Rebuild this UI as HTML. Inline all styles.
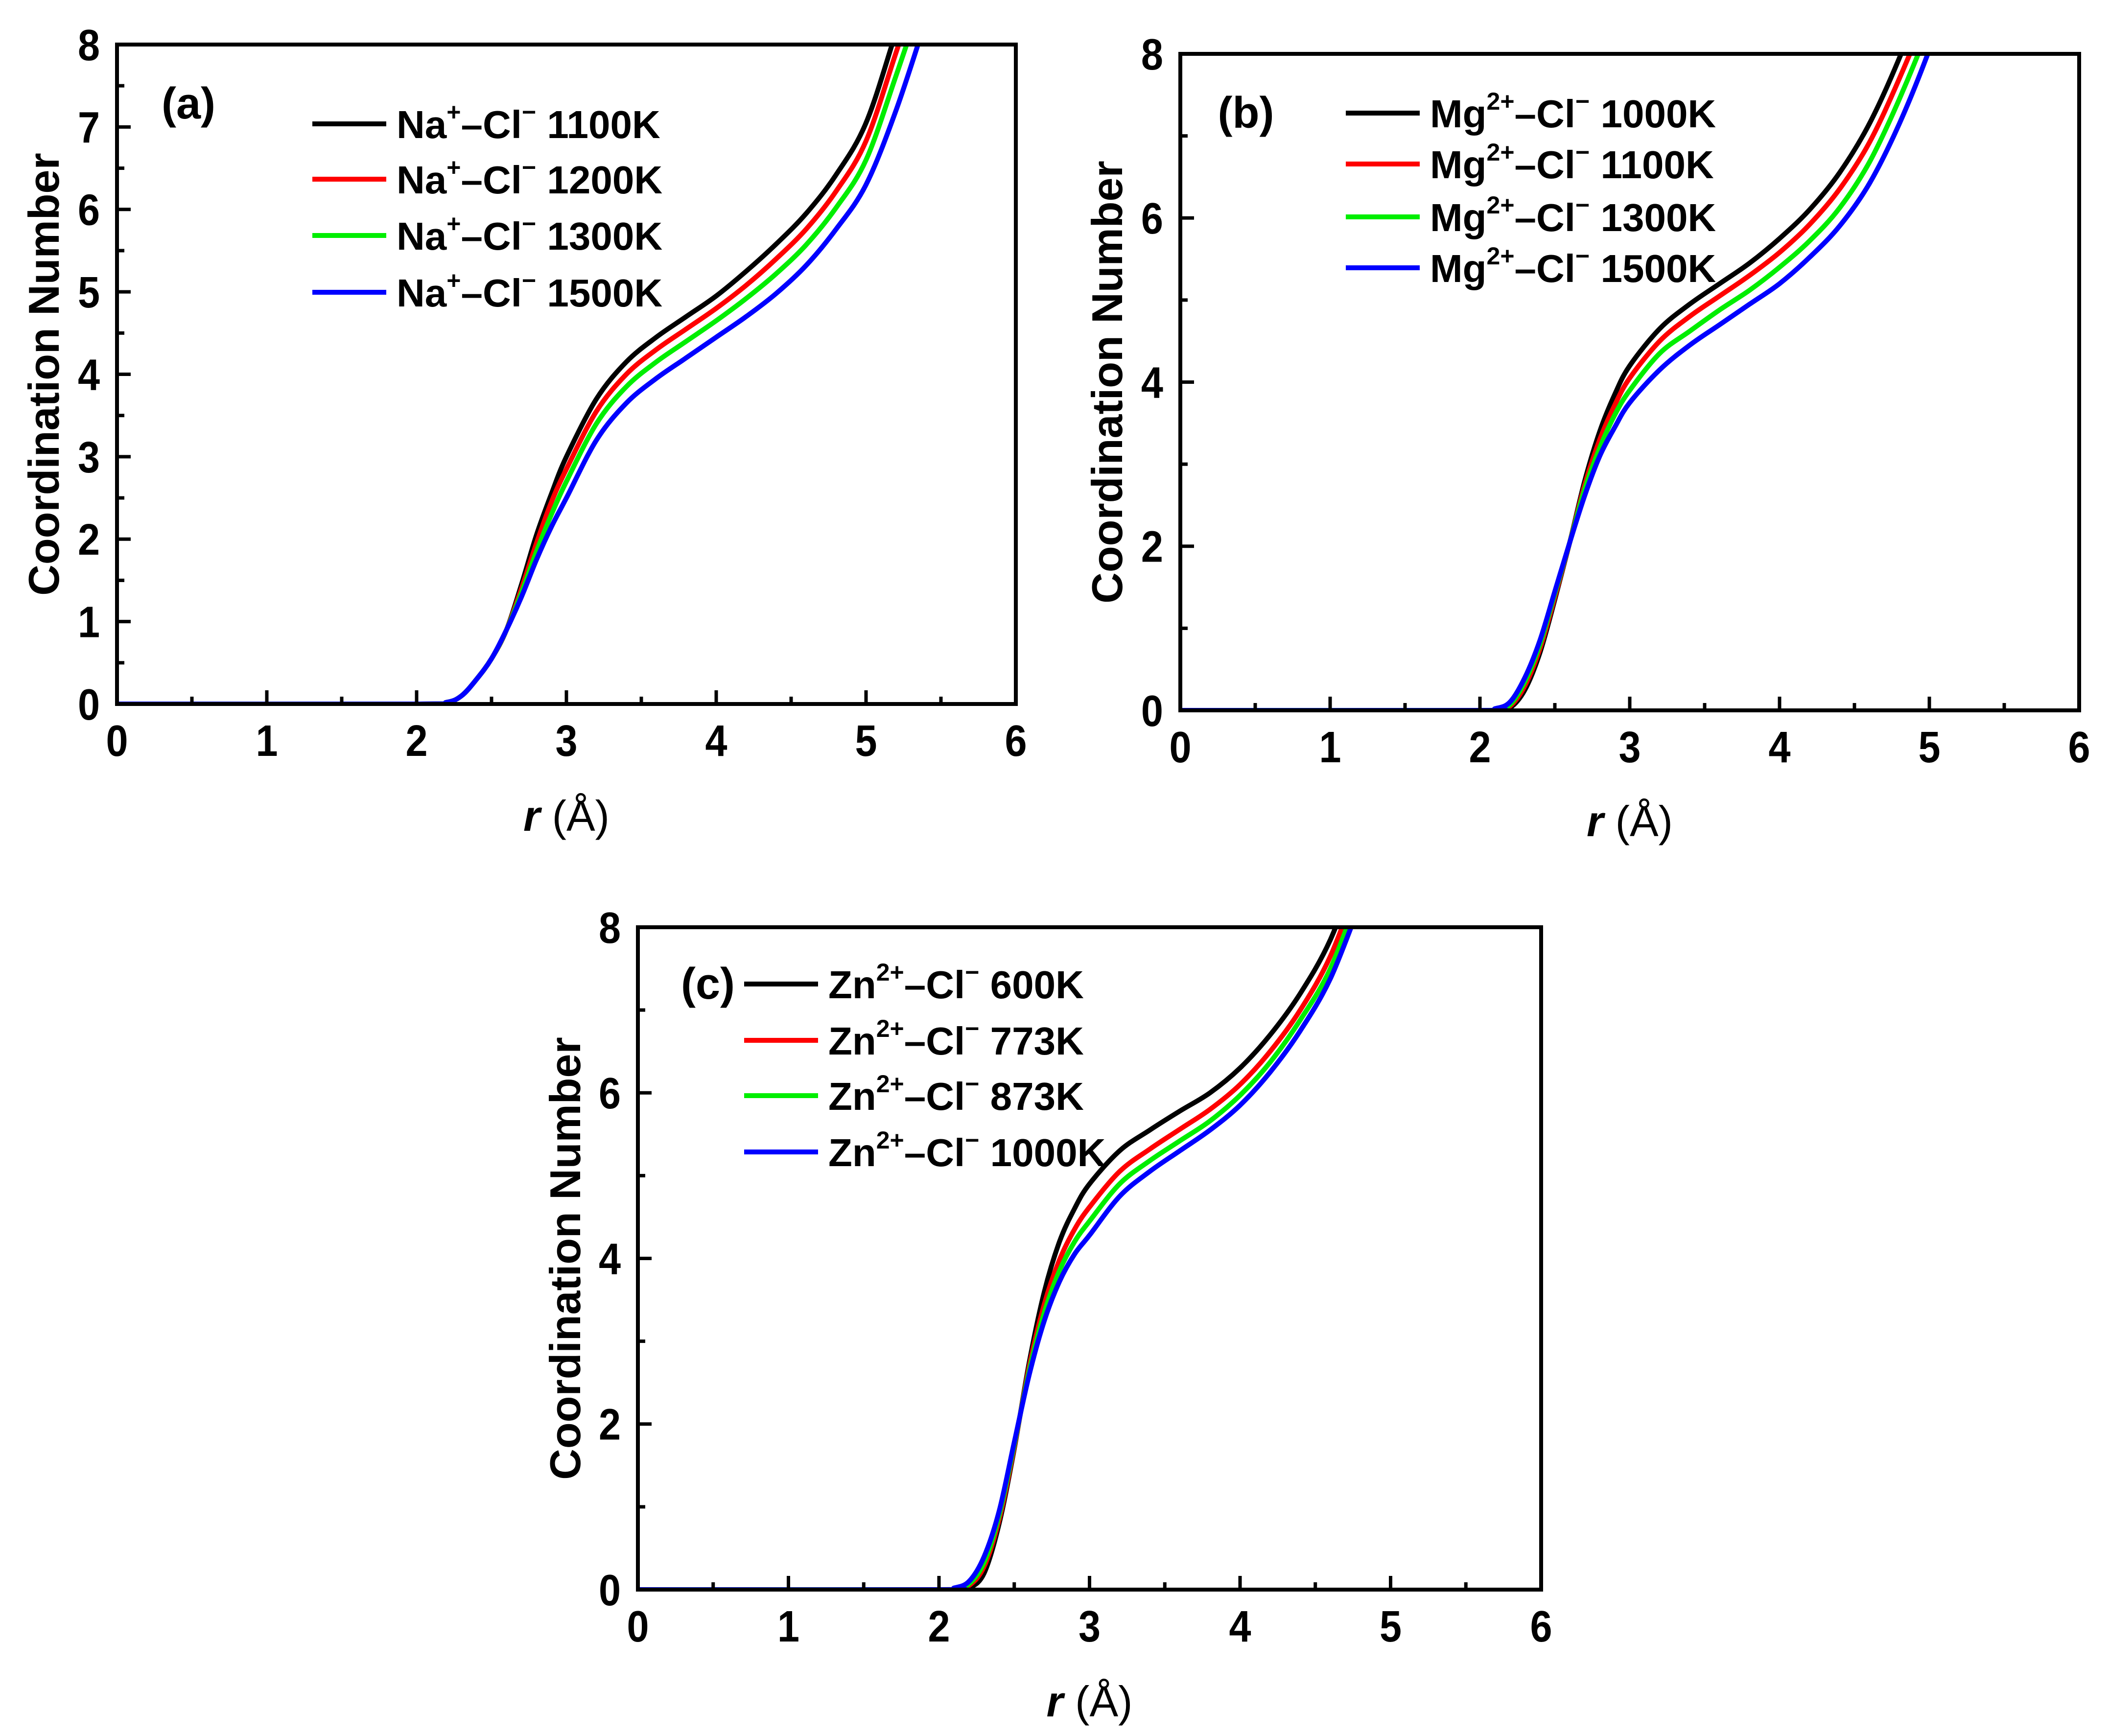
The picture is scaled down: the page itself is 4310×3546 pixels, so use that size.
<!DOCTYPE html>
<html><head><meta charset="utf-8">
<style>
html,body{margin:0;padding:0;background:#fff;}
svg{display:block;}
text{font-family:"Liberation Sans",Arial,sans-serif;font-weight:bold;fill:#000;}
</style></head>
<body>
<svg id="chart" width="4310" height="3546" viewBox="0 0 4310 3546" xmlns="http://www.w3.org/2000/svg">
<rect width="4310" height="3546" fill="#fff"/>
</svg>
<script>
// ---- data ----
const colors = ["#000000", "#ff0000", "#00ee00", "#0000ff"];
const xTicks = [0, 1, 2, 3, 4, 5, 6];
const yTicksA = [0, 1, 2, 3, 4, 5, 6, 7, 8];
const yTicksBC = [0, 2, 4, 6, 8];

const rA = [2.0, 2.2, 2.3, 2.4, 2.5, 2.6, 2.7, 2.8, 2.9, 3.0, 3.2, 3.4, 3.6, 3.8, 4.0, 4.2, 4.4, 4.6, 4.8, 5.0, 5.2, 5.4];
const labelsA = ["1100K", "1200K", "1300K", "1500K"];
const a1100 = [0, 0.02, 0.1, 0.3, 0.55, 0.9, 1.45, 2.05, 2.55, 3.0, 3.7, 4.15, 4.45, 4.7, 4.95, 5.25, 5.58, 5.95, 6.42, 7.05, 8.15, 9.3];
const a1200 = [0, 0.02, 0.1, 0.3, 0.55, 0.9, 1.4, 1.95, 2.45, 2.85, 3.55, 4.0, 4.3, 4.55, 4.8, 5.08, 5.4, 5.76, 6.22, 6.83, 7.9, 9.0];
const a1300 = [0, 0.02, 0.1, 0.3, 0.55, 0.9, 1.35, 1.85, 2.3, 2.7, 3.4, 3.85, 4.15, 4.4, 4.65, 4.92, 5.22, 5.57, 6.02, 6.6, 7.62, 8.7];
const a1500 = [0, 0.02, 0.1, 0.3, 0.55, 0.9, 1.3, 1.75, 2.15, 2.5, 3.2, 3.65, 3.95, 4.2, 4.45, 4.7, 4.98, 5.32, 5.76, 6.3, 7.2, 8.3];

const rB = [2.0, 2.1, 2.2, 2.3, 2.4, 2.5, 2.6, 2.7, 2.8, 2.9, 3.0, 3.2, 3.4, 3.6, 3.8, 4.0, 4.2, 4.4, 4.6, 4.8, 5.0, 5.2];
const labelsB = ["1000K", "1100K", "1300K", "1500K"];
const b1000 = [0, 0, 0.03, 0.25, 0.7, 1.35, 2.05, 2.8, 3.4, 3.85, 4.2, 4.65, 4.95, 5.2, 5.45, 5.75, 6.1, 6.55, 7.15, 7.95, 8.9, 10];
const b1100 = [0, 0.01, 0.05, 0.3, 0.75, 1.38, 2.05, 2.75, 3.3, 3.72, 4.05, 4.5, 4.8, 5.05, 5.3, 5.58, 5.92, 6.35, 6.92, 7.7, 8.6, 9.7];
const b1300 = [0, 0.01, 0.07, 0.35, 0.8, 1.42, 2.05, 2.7, 3.2, 3.6, 3.9, 4.35, 4.62, 4.88, 5.12, 5.4, 5.72, 6.12, 6.68, 7.45, 8.35, 9.4];
const b1500 = [0, 0.02, 0.1, 0.4, 0.85, 1.45, 2.05, 2.62, 3.1, 3.45, 3.75, 4.15, 4.45, 4.7, 4.95, 5.2, 5.52, 5.9, 6.42, 7.15, 8.05, 9.1];

const rC = [2.0, 2.1, 2.2, 2.3, 2.4, 2.5, 2.6, 2.7, 2.8, 2.9, 3.0, 3.2, 3.4, 3.6, 3.8, 4.0, 4.2, 4.4, 4.6, 4.8];
const labelsC = ["600K", "773K", "873K", "1000K"];
const c600 = [0, 0, 0.02, 0.2, 0.8, 1.7, 2.75, 3.6, 4.2, 4.6, 4.9, 5.3, 5.55, 5.78, 6.0, 6.3, 6.7, 7.2, 7.85, 8.8];
const c773 = [0, 0.01, 0.05, 0.28, 0.85, 1.72, 2.7, 3.45, 3.98, 4.35, 4.62, 5.05, 5.32, 5.56, 5.8, 6.1, 6.5, 7.0, 7.65, 8.6];
const c873 = [0, 0.01, 0.07, 0.33, 0.9, 1.75, 2.65, 3.35, 3.85, 4.2, 4.45, 4.9, 5.18, 5.42, 5.66, 5.97, 6.37, 6.88, 7.5, 8.45];
const c1000 = [0, 0.02, 0.1, 0.4, 0.95, 1.78, 2.6, 3.25, 3.72, 4.05, 4.28, 4.75, 5.05, 5.3, 5.55, 5.85, 6.25, 6.75, 7.38, 8.3];

// ---- drawing ----
const NS = "http://www.w3.org/2000/svg";
const svg = document.getElementById("chart");
function mk(tag, attrs, parent) {
  const e = document.createElementNS(NS, tag);
  for (const k in attrs) e.setAttribute(k, attrs[k]);
  (parent || svg).appendChild(e);
  return e;
}

function smoothPath(pts) {
  let d = "M" + pts[0][0].toFixed(1) + "," + pts[0][1].toFixed(1);
  for (let i = 0; i < pts.length - 1; i++) {
    const p0 = pts[Math.max(0, i - 1)], p1 = pts[i], p2 = pts[i + 1], p3 = pts[Math.min(pts.length - 1, i + 2)];
    const c1x = p1[0] + (p2[0] - p0[0]) / 6, c1y = p1[1] + (p2[1] - p0[1]) / 6;
    const c2x = p2[0] - (p3[0] - p1[0]) / 6, c2y = p2[1] - (p3[1] - p1[1]) / 6;
    d += " C" + c1x.toFixed(1) + "," + c1y.toFixed(1) + " " + c2x.toFixed(1) + "," + c2y.toFixed(1) + " " + p2[0].toFixed(1) + "," + p2[1].toFixed(1);
  }
  return d;
}

function panel(cfg) {
  const g = mk("g", {});
  
  
  const L = cfg.L, R = cfg.R, T = cfg.T, B = cfg.B;
  const sx = v => L + (v - 0) / 6 * (R - L);
  const sy = v => B - v / 8 * (B - T);
  const cid = cfg.name + "-clip";
  const cp = mk("clipPath", { id: cid }, g);
  mk("rect", { x: L, y: T, width: R - L, height: B - T }, cp);

  const sg = mk("g", { "clip-path": "url(#" + cid + ")" }, g);
  cfg.series.forEach((s, i) => {
    const pts = [[sx(0), sy(0)]];
    cfg.r.forEach((rv, j) => pts.push([sx(rv), sy(s[j])]));
    const p = mk("path", { d: smoothPath(pts), fill: "none", stroke: colors[i], "stroke-width": 10, "stroke-linejoin": "round" }, sg);
    
    
  });

  const fr = mk("rect", { x: L, y: T, width: R - L, height: B - T, fill: "none", stroke: "#000", "stroke-width": 8 }, g);
  
  

  xTicks.forEach(t => {
    const x = sx(t);
    mk("line", { x1: x, y1: B, x2: x, y2: B - 28, stroke: "#000", "stroke-width": 7 }, g);
    if (t < 6) { const xm = sx(t + 0.5); mk("line", { x1: xm, y1: B, x2: xm, y2: B - 15, stroke: "#000", "stroke-width": 7 }, g); }
    const tx = mk("text", { x: x, y: B + 106, "font-size": 90, "text-anchor": "middle", transform: "translate(" + x + " 0) scale(0.9 1) translate(" + (-x) + " 0)" }, g);
    tx.textContent = t;
    
    
  });
  const yt = cfg.yTicks, step = yt[1] - yt[0];
  yt.forEach(t => {
    const y = sy(t);
    mk("line", { x1: L, y1: y, x2: L + 28, y2: y, stroke: "#000", "stroke-width": 7 }, g);
    if (t < 8) { const ym = sy(t + step / 2); mk("line", { x1: L, y1: ym, x2: L + 15, y2: ym, stroke: "#000", "stroke-width": 7 }, g); }
    const xx = L - 35;
    const tx = mk("text", { x: xx, y: y + 32, "font-size": 90, "text-anchor": "end", transform: "translate(" + xx + " 0) scale(0.9 1) translate(" + (-xx) + " 0)" }, g);
    tx.textContent = t;
    
    
  });
  const cy = (T + B) / 2;
  const yl = mk("text", { x: cfg.ytx, y: cy, "font-size": 88, "text-anchor": "middle", transform: "rotate(-90 " + cfg.ytx + " " + cy + ")" }, g);
  yl.textContent = "Coordination Number";
  
  
  const xl = mk("text", { x: (L + R) / 2, y: cfg.xty, "font-size": 88, "text-anchor": "middle" }, g);
  
  
  const ti = mk("tspan", { "font-style": "italic" }, xl); ti.textContent = "r";
  const tn = mk("tspan", { "font-weight": "normal" }, xl); tn.textContent = " (Å)";

  const pl = mk("text", { x: cfg.plx, y: cfg.ply + 30, "font-size": 90, "text-anchor": "middle" }, g);
  pl.textContent = cfg.tag;
  
  

  cfg.labels.forEach((lab, i) => {
    const y = cfg.legY[i];
    const le = mk("g", {}, g);
    
    
    mk("line", { x1: cfg.legX, y1: y, x2: cfg.legX + 151, y2: y, stroke: colors[i], "stroke-width": 10 }, le);
    const t = mk("text", { x: cfg.legX + 172, y: y + 29, "font-size": 80 }, le);
    const a = mk("tspan", {}, t); a.textContent = cfg.ion;
    const b = mk("tspan", { "font-size": 50, dy: -36 }, t); b.textContent = cfg.charge;
    const c = mk("tspan", { dy: 36 }, t); c.textContent = "–Cl";
    const d = mk("tspan", { "font-size": 50, dy: -36 }, t); d.textContent = "−";
    const e = mk("tspan", { dy: 36 }, t); e.textContent = " " + lab;
  });
}

panel({ name: "panel-a", tag: "(a)", L: 239, R: 2075, T: 91, B: 1438, yTicks: yTicksA, r: rA,
  series: [a1100, a1200, a1300, a1500], labels: labelsA, ion: "Na", charge: "+",
  ytx: 120, xty: 1697, plx: 385, ply: 212, legX: 638, legY: [253, 366, 481, 597] });
panel({ name: "panel-b", tag: "(b)", L: 2411, R: 4247, T: 110, B: 1451, yTicks: yTicksBC, r: rB,
  series: [b1000, b1100, b1300, b1500], labels: labelsB, ion: "Mg", charge: "2+",
  ytx: 2292, xty: 1708, plx: 2545, ply: 231, legX: 2749, legY: [231, 335, 443, 547] });
panel({ name: "panel-c", tag: "(c)", L: 1303, R: 3148, T: 1894, B: 3247, yTicks: yTicksBC, r: rC,
  series: [c600, c773, c873, c1000], labels: labelsC, ion: "Zn", charge: "2+",
  ytx: 1185, xty: 3506, plx: 1446, ply: 2010, legX: 1520, legY: [2010, 2125, 2238, 2353] });
</script>
</body></html>
